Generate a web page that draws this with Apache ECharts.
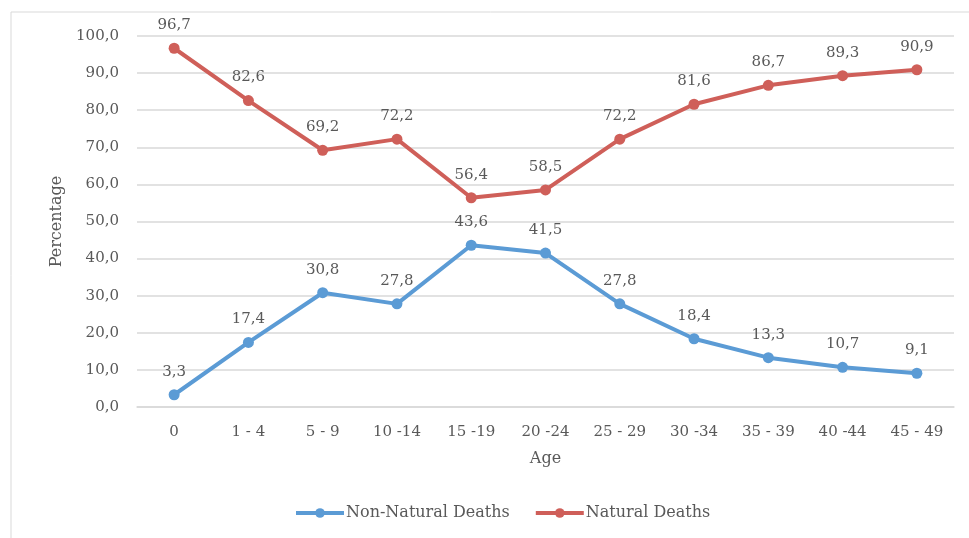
<!DOCTYPE html>
<html>
<head>
<meta charset="utf-8">
<script src="https://cdn.jsdelivr.net/npm/echarts@6/dist/echarts.min.js"></script>
<style>
  html, body { margin: 0; padding: 0; background: #fff; }
  #chart { width: 969px; height: 538px; }
</style>
</head>
<body>
<div id="chart"></div>
<script>
const ages = ['0', '1 - 4', '5 - 9', '10 -14', '15 -19', '20 -24', '25 - 29', '30 -34', '35 - 39', '40 -44', '45 - 49']
const nonNatural = [3.3, 17.4, 30.8, 27.8, 43.6, 41.5, 27.8, 18.4, 13.3, 10.7, 9.1]
const natural = [96.7, 82.6, 69.2, 72.2, 56.4, 58.5, 72.2, 81.6, 86.7, 89.3, 90.9]

const font = 'DejaVu Serif'
const textColor = '#595959'
const fmt = v => Number(v).toFixed(1).replace('.', ',')

const chart = echarts.init(document.getElementById('chart'))

function lineSeries(name, data, color) {
  return {
    name,
    type: 'line',
    data,
    symbol: 'circle',
    symbolSize: 11,
    lineStyle: { color, width: 4 },
    itemStyle: { color },
    label: {
      show: true,
      position: 'top',
      distance: 10,
      color: textColor,
      fontFamily: font,
      fontSize: 15,
      formatter: p => fmt(p.value)
    }
  }
}

chart.setOption({
  animation: false,
  graphic: [{
    type: 'rect',
    shape: { x: 11, y: 12, width: 980, height: 560 },
    style: { fill: 'none', stroke: '#d9d9d9', lineWidth: 1 },
    silent: true
  }],
  grid: { left: 137, right: 15, top: 36, bottom: 131 },
  legend: {
    bottom: 12,
    left: 289,
    itemWidth: 48,
    itemHeight: 12,
    itemGap: 24,
    lineStyle: { width: 4 },
    textStyle: { color: textColor, fontFamily: font, fontSize: 16, padding: [0, 0, 0, -3] },
    data: ['Non-Natural Deaths', 'Natural Deaths']
  },
  xAxis: {
    type: 'category',
    data: ages,
    name: 'Age',
    nameLocation: 'middle',
    nameGap: 44,
    nameTextStyle: { color: textColor, fontFamily: font, fontSize: 16 },
    axisLine: { lineStyle: { color: '#d9d9d9', width: 1.5 } },
    axisTick: { show: false },
    axisLabel: { color: textColor, fontFamily: font, fontSize: 15, margin: 18 }
  },
  yAxis: {
    type: 'value',
    min: 0,
    max: 100,
    interval: 10,
    name: 'Percentage',
    nameLocation: 'middle',
    nameGap: 72,
    nameTextStyle: { color: textColor, fontFamily: font, fontSize: 16 },
    axisLine: { show: false },
    axisTick: { show: false },
    splitLine: { lineStyle: { color: '#d9d9d9', width: 1.5 } },
    axisLabel: { color: textColor, fontFamily: font, fontSize: 15, margin: 18, formatter: fmt }
  },
  series: [
    lineSeries('Non-Natural Deaths', nonNatural, '#5b9bd5'),
    lineSeries('Natural Deaths', natural, '#cf5f59')
  ]
})
</script>
</body>
</html>
